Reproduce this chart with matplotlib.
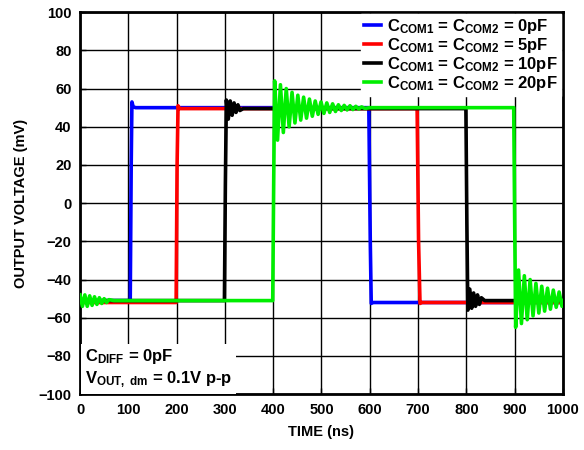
import matplotlib
matplotlib.use("Agg")
import matplotlib.pyplot as plt

plt.rcParams['font.family'] = ['Liberation Sans', 'DejaVu Sans']
plt.rcParams['font.weight'] = 'bold'
plt.rcParams['mathtext.fontset'] = 'custom'
plt.rcParams['mathtext.rm'] = 'Liberation Sans:bold'
plt.rcParams['mathtext.bf'] = 'Liberation Sans:bold'
plt.rcParams['mathtext.it'] = 'Liberation Sans:bold'

# ---- data (time in ns, voltage in mV) ----
t_0pF = [0, 104, 106, 107.5, 110, 115, 598, 601, 603, 606, 1000]
v_0pF = [-51, -51, 20, 53, 50.5, 50, 50, -20, -52.5, -52, -52]

t_5pF = [0, 199, 201, 203, 206, 698, 701, 704, 708, 1000]
v_5pF = [-52, -52, 20, 51, 49.5, 49.5, -20, -52.5, -52, -52]

t_10pF = [0, 299, 301, 303, 307, 311, 315, 319, 323, 327, 331, 338,
          799, 801, 803, 807, 811, 815, 819, 823, 827, 831, 838, 1000]
v_10pF = [-51, -51, 10, 54, 44, 53.5, 46, 52.5, 47.5, 51.5, 48.5, 49.5,
          49.5, -10, -56, -45, -55, -47, -54, -48, -53, -49.5, -51, -51]

t_20pF = [0, 5, 10, 15, 20, 25, 30, 35, 40, 45, 50, 55, 60, 70, 399,
          401, 403, 409, 415, 421, 427, 433, 439, 445, 451, 457, 463, 469,
          475, 481, 487, 493, 499, 505, 511, 517, 523, 529, 535, 541, 547,
          553, 559, 565, 571, 577, 583, 590, 600, 898,
          900, 902, 908, 914, 920, 926, 932, 938, 944, 950, 956, 962, 968,
          974, 980, 986, 992, 998, 1000]
v_20pF = [-48, -54, -48, -54, -48.5, -53.5, -49, -53, -49.5, -52.5, -50, -52, -50.5, -51, -51,
          10, 64, 33, 62, 37, 60, 40, 58, 42, 56.5, 43.5, 55.5, 44.5,
          54.5, 45.5, 53.5, 46.5, 53, 47, 52.5, 47.5, 52, 48, 51.5, 48.5, 51.2,
          48.8, 51, 49, 50.7, 49.3, 50.4, 49.6, 50, 50,
          -10, -65, -35, -63, -38, -61, -40, -59, -42, -57.5, -43.5, -56.5, -44.5,
          -55.5, -45.5, -54.5, -46.5, -54, -51]

series = [
    (t_0pF, v_0pF, '#0000ff', '0pF'),
    (t_5pF, v_5pF, '#ff0000', '5pF'),
    (t_10pF, v_10pF, '#000000', '10pF'),
    (t_20pF, v_20pF, '#00ee00', '20pF'),
]

x_ticks = list(range(0, 1001, 100))
y_ticks = list(range(-100, 101, 20))

fig = plt.figure(figsize=(5.84, 4.5), dpi=100)
ax = fig.add_axes([0.137, 0.124, 0.827, 0.849])

for t, v, c, lab in series:
    ax.plot(t, v, color=c, lw=2.6, solid_joinstyle='round',
            label='C$_{\\mathregular{COM1}}$ = C$_{\\mathregular{COM2}}$ = ' + lab, zorder=3)

ax.set_xlim(0, 1000)
ax.set_ylim(-100, 100)
ax.set_xticks(x_ticks)
ax.set_yticks(y_ticks)
ax.set_yticklabels([str(v).replace('-', '\u2212') for v in y_ticks])
ax.grid(True, color='black', lw=1.0, zorder=1)
ax.set_axisbelow(True)
for s in ax.spines.values():
    s.set_linewidth(2)
ax.tick_params(direction='in', length=4, width=1, labelsize=10.5, pad=6)
for lbl in ax.get_xticklabels() + ax.get_yticklabels():
    lbl.set_fontweight('bold')

ax.set_xlabel('TIME (ns)', fontsize=10.5, fontweight='bold', labelpad=6)
ax.set_ylabel('OUTPUT VOLTAGE (mV)', fontsize=10.5, fontweight='bold', labelpad=8)

leg = ax.legend(loc='upper right', frameon=True, fancybox=False, framealpha=1,
                edgecolor='white', fontsize=12, handlelength=1.0,
                handletextpad=0.4, borderpad=0.2, labelspacing=0.0,
                borderaxespad=0.1)
leg.set_zorder(5)

ax.text(0.01, 0.012,
        'C$_{\\mathregular{DIFF}}$ = 0pF\nV$_{\\mathregular{OUT,\\ dm}}$ = 0.1V p-p',
        transform=ax.transAxes, fontsize=12, va='bottom', ha='left',
        linespacing=1.25, zorder=5,
        bbox=dict(facecolor='white', edgecolor='none', pad=3))

fig.savefig('out.png', dpi=100)
